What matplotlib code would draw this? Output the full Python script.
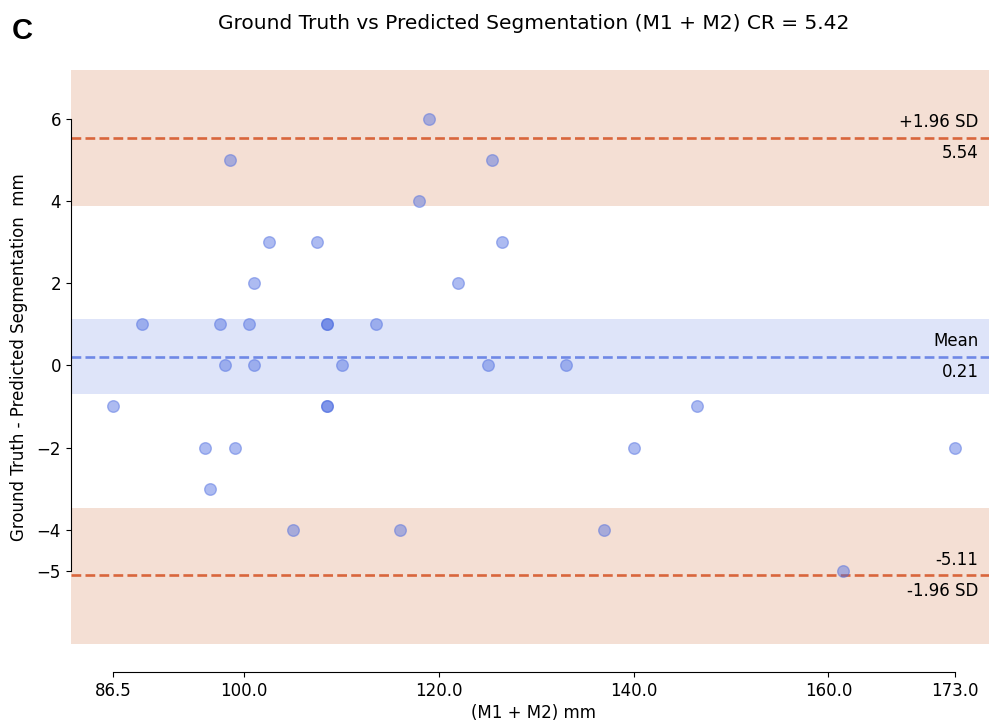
import numpy as np
from matplotlib import pyplot as plt, ticker, transforms

# mean of the two measurements and their difference, one entry per case
means = np.array([86.5, 89.5, 96, 96.5, 97.5, 98, 98.5, 99, 100.5, 101, 101, 102.5,
                  105, 107.5, 108.5, 108.5, 108.5, 108.5, 110, 113.5, 116, 118, 119,
                  122, 125, 125.5, 126.5, 133, 137, 140, 146.5, 161.5, 173])
diffs = np.array([-1, 1, -2, -3, 1, 0, 5, -2, 1, 2, 0, 3,
                  -4, 3, 1, 1, -1, -1, 0, 1, -4, 4, 6,
                  2, 0, 5, 3, 0, -4, -2, -1, -5, -2])

# confidence bands
mean_ci = (-0.70, 1.13)
upper_ci = (3.88, 7.19)
lower_ci = (-6.77, -3.46)

x_ticks = [86.5, 100, 120, 140, 160, 173]
y_ticks = [-5, -4, -2, 0, 2, 4, 6]

loa = 1.96
md = diffs.mean()
sd = diffs.std()

mean_colour = '#4a6ae0'
loa_colour = '#d9663c'
band_colour = '#c85f28'

plt.rcParams['font.size'] = 12
fig = plt.figure(figsize=(9.89, 7.22), dpi=100)
ax = fig.add_axes([0.0715, 0.0688, 0.9366, 0.8742])

ax.axhspan(mean_ci[0], mean_ci[1], facecolor=mean_colour, alpha=0.18, lw=0)
ax.axhspan(upper_ci[0], upper_ci[1], facecolor=band_colour, alpha=0.2, lw=0)
ax.axhspan(lower_ci[0], lower_ci[1], facecolor=band_colour, alpha=0.2, lw=0)

ax.axhline(md, color=mean_colour, linestyle='--', lw=1.9, alpha=0.75)
ax.axhline(md + loa*sd, color=loa_colour, linestyle='--', lw=1.9)
ax.axhline(md - loa*sd, color=loa_colour, linestyle='--', lw=1.9)

ax.scatter(means, diffs, s=70, alpha=0.45, c=mean_colour, zorder=3)

trans = transforms.blended_transform_factory(ax.transAxes, ax.transData)
offset = (2*loa*sd/100.0)*1.5
ax.text(0.98, md + offset, 'Mean', ha='right', va='bottom', transform=trans)
ax.text(0.98, md - offset, f'{md:.2f}', ha='right', va='top', transform=trans)
ax.text(0.98, md + loa*sd + offset, f'+{loa:.2f} SD', ha='right', va='bottom', transform=trans)
ax.text(0.98, md + loa*sd - offset, f'{md + loa*sd:.2f}', ha='right', va='top', transform=trans)
ax.text(0.98, md - loa*sd - offset, f'-{loa:.2f} SD', ha='right', va='top', transform=trans)
ax.text(0.98, md - loa*sd + offset, f'{md - loa*sd:.2f}', ha='right', va='bottom', transform=trans)

ax.spines['left'].set_bounds(diffs.min(), diffs.max())
ax.spines['bottom'].set_bounds(means.min(), means.max())
ax.spines['right'].set_visible(False)
ax.spines['top'].set_visible(False)

ax.xaxis.set_major_locator(ticker.FixedLocator(x_ticks))
ax.xaxis.set_major_formatter(ticker.FormatStrFormatter('%.1f'))
ax.yaxis.set_major_locator(ticker.FixedLocator(y_ticks))

ax.set_ylabel('Ground Truth - Predicted Segmentation  mm', labelpad=6)
ax.set_xlabel('(M1 + M2) mm', labelpad=3)
ax.set_title('Ground Truth vs Predicted Segmentation (M1 + M2) CR = 5.42', fontsize=14.5, pad=8.5)
fig.text(0.012, 0.946, 'C', fontsize=21, fontweight='bold', family='Liberation Sans')

fig.savefig('out.png', dpi=100)
